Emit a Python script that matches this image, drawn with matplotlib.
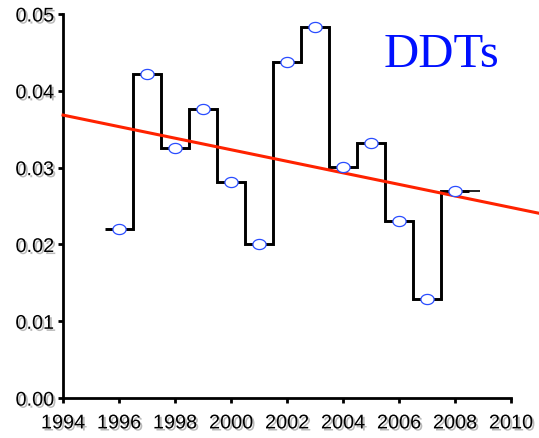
import numpy as np
import matplotlib
matplotlib.use("Agg")
import matplotlib.pyplot as plt
import matplotlib.patheffects as pe
from matplotlib.path import Path


# ---------------------------------------------------------
# Data
# ---------------------------------------------------------
years = np.array([1996, 1997, 1998, 1999, 2000, 2001, 2002,
                  2003, 2004, 2005, 2006, 2007, 2008])
ddt = np.array([0.0220, 0.0422, 0.0326, 0.0377, 0.0281, 0.0201, 0.0437,
                0.0483, 0.0301, 0.0332, 0.0230, 0.0129, 0.0269])
x_ticks = [1994, 1996, 1998, 2000, 2002, 2004, 2006, 2008, 2010]
y_ticks = [0.00, 0.01, 0.02, 0.03, 0.04, 0.05]

plt.rcParams["font.family"] = ["Liberation Sans", "DejaVu Sans"]

shadow = [pe.withSimplePatchShadow(offset=(1.5, -1.5), shadow_rgbFace="0.55", alpha=0.6)]

fig = plt.figure(figsize=(5.39, 4.38), dpi=100)
ax = fig.add_axes([0.117, 0.091, 0.831, 0.877])

# step outline, one bin per year
edges = np.append(years - 0.5, years[-1] + 0.5)
ax.stairs(ddt, edges, baseline=None, color="black", linewidth=2.1, zorder=2)
ax.hlines(ddt[-1], edges[-1], edges[-1] + 0.4, color="black", linewidth=1.2, zorder=2)

# linear trend
slope, intercept = np.polyfit(years, ddt, 1)
xf = np.array([1994, 2011.2])
ax.plot(xf, slope * xf + intercept, color="#ff2200", linewidth=2.2,
        zorder=3, clip_on=False)

# ellipse markers
t = np.linspace(0, 2 * np.pi, 60)
ellipse = Path(np.column_stack([1.3 * np.cos(t), np.sin(t)]), closed=True)
ax.plot(years, ddt, linestyle="none", marker=ellipse, markersize=9.5,
        markerfacecolor="white", markeredgecolor="#2a4dff",
        markeredgewidth=0.9, zorder=4)

ax.text(2007.5, 0.0447, "DDTs", color="#0010ff", fontsize=35,
        family=["Liberation Serif", "DejaVu Serif"], ha="center", va="center")

ax.set_xlim(1994, 2010)
ax.set_ylim(0, 0.05)
ax.set_xticks(x_ticks)
ax.set_yticks(y_ticks)
ax.set_yticklabels([f"{v:.2f}" for v in y_ticks])

for side in ["top", "right"]:
    ax.spines[side].set_visible(False)
for side in ["left", "bottom"]:
    ax.spines[side].set_linewidth(2.0)

ax.tick_params(direction="out", length=3.5, width=2, labelsize=14.3)
ax.tick_params(axis="x", pad=7.5)
ax.tick_params(axis="y", pad=3)
for lbl in ax.get_xticklabels() + ax.get_yticklabels():
    lbl.set_path_effects(shadow)

fig.savefig("out.png", dpi=100)
